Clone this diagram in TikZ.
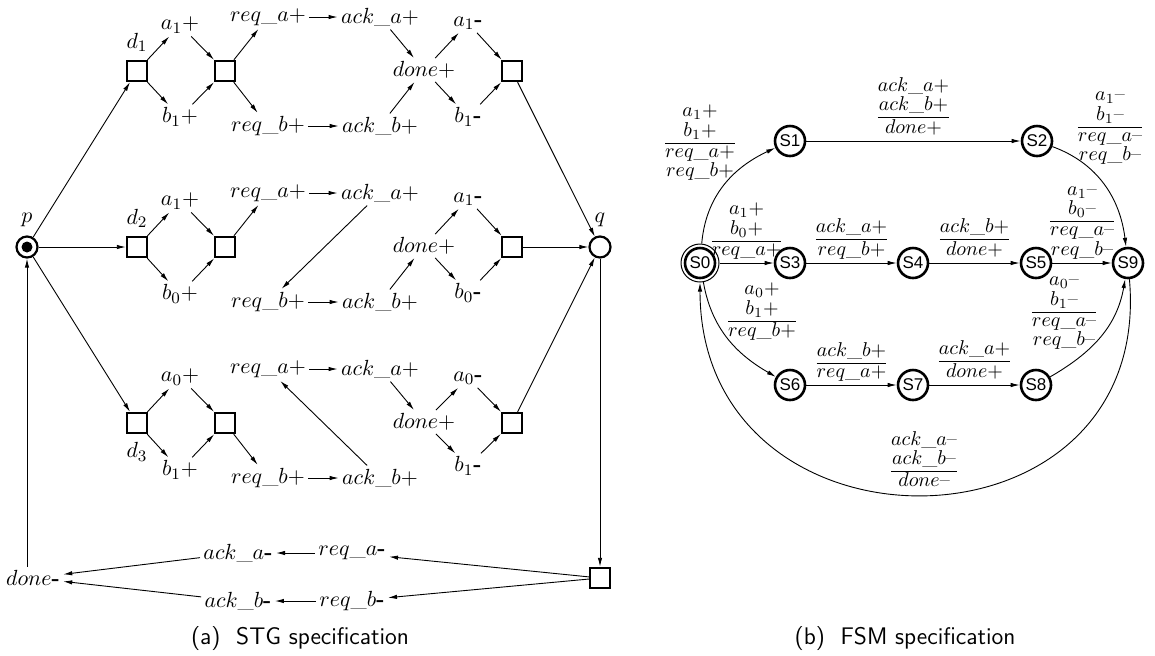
\documentclass[tikz,border=0pt]{standalone}
\usepackage{amsmath}
\usepackage{fontspec}
\newfontfamily\statefont{Liberation Sans}
\usepackage{tikz}
\usetikzlibrary{arrows.meta, positioning}
\newcommand{\fall}{\text{\bfseries -}}
\newcommand{\dn}{\text{--}}
\newcommand{\evt}[2]{{\renewcommand{\arraystretch}{0.75}%
  $\genfrac{}{}{0.5pt}{1}{\begin{array}{@{}c@{}}#1\end{array}}{\begin{array}{@{}c@{}}#2\end{array}}$}}

\begin{document}
\begin{tikzpicture}[x=0.5pt, y=-0.5pt, font=\fontsize{11}{13}\selectfont,
  >={Latex[length=4.5pt, width=2.2pt]}, line width=0.45pt,
  trn/.style={inner sep=1.5pt},
  box/.style={draw, line width=1.2pt, minimum size=10pt, inner sep=0pt},
  place/.style={draw, circle, line width=1.1pt, minimum size=10.5pt, inner sep=0pt},
  token/.style={circle, fill, minimum size=5.5pt, inner sep=0pt},
  state/.style={draw, circle, line width=1.3pt, minimum size=15pt, inner sep=0pt,
                font=\statefont\fontsize{8.5}{10}\selectfont},
  ring/.style={draw, circle, line width=0.5pt, minimum size=19pt, inner sep=0pt},
  lbl/.style={inner sep=1pt},
  guard/.style={inner sep=1pt, font=\fontsize{10}{12}\selectfont},
  capt/.style={font=\sffamily\fontsize{12}{14}\selectfont}]
  \useasboundingbox (0,0) rectangle (1155,655);

  % ---- (a) STG ----
  \node[place] (p) at (27,247) {};
  \node[token] (tok) at (p) {};
  \node[lbl, above=3pt of p] (pl) {$p$};
  \node[place] (q) at (600,247) {};
  \node[lbl, above=3pt of q] (ql) {$q$};

  % upper branch
  \node[box] (d1) at (137,71) {};
  \node[lbl, above=3pt of d1] (d1l) {$d_1$};
  \node[trn] (ap1) at (180,25) {$a_1+$};
  \node[trn] (bp1) at (180,117) {$b_1+$};
  \node[box] (j1) at (225,71) {};
  \node[trn] (rqa1) at (268,17) {$req\_a+$};
  \node[trn] (aka1) at (380,17) {$ack\_a+$};
  \node[trn] (rqb1) at (268,126) {$req\_b+$};
  \node[trn] (akb1) at (380,126) {$ack\_b+$};
  \node[trn] (dn1) at (424,70) {$done+$};
  \node[trn] (am1) at (468,23) {$a_1\fall$};
  \node[trn] (bm1) at (468,117) {$b_1\fall$};
  \node[box] (k1) at (512,71) {};
  \draw[->] (p) -- (d1);
  \draw[->] (d1) -- (ap1);
  \draw[->] (d1) -- (bp1);
  \draw[->] (ap1) -- (j1);
  \draw[->] (bp1) -- (j1);
  \draw[->] (j1) -- (rqa1);
  \draw[->] (j1) -- (rqb1);
  \draw[->] (rqa1) -- (aka1);
  \draw[->] (rqb1) -- (akb1);
  \draw[->] (aka1) -- (dn1);
  \draw[->] (akb1) -- (dn1);
  \draw[->] (dn1) -- (am1);
  \draw[->] (dn1) -- (bm1);
  \draw[->] (am1) -- (k1);
  \draw[->] (bm1) -- (k1);
  \draw[->] (k1) -- (q);

  % middle branch
  \node[box] (d2) at (137,247) {};
  \node[lbl, above=3pt of d2] (d2l) {$d_2$};
  \node[trn] (ap2) at (180,201) {$a_1+$};
  \node[trn] (bp2) at (180,294) {$b_0+$};
  \node[box] (j2) at (225,247) {};
  \node[trn] (rqa2) at (268,193) {$req\_a+$};
  \node[trn] (aka2) at (380,193) {$ack\_a+$};
  \node[trn] (rqb2) at (268,302) {$req\_b+$};
  \node[trn] (akb2) at (380,302) {$ack\_b+$};
  \node[trn] (dn2) at (424,246) {$done+$};
  \node[trn] (am2) at (468,199) {$a_1\fall$};
  \node[trn] (bm2) at (468,293) {$b_0\fall$};
  \node[box] (k2) at (512,247) {};
  \draw[->] (p) -- (d2);
  \draw[->] (d2) -- (ap2);
  \draw[->] (d2) -- (bp2);
  \draw[->] (ap2) -- (j2);
  \draw[->] (bp2) -- (j2);
  \draw[->] (j2) -- (rqa2);
  \draw[->] (rqa2) -- (aka2);
  \draw[->] (aka2) -- (rqb2);
  \draw[->] (rqb2) -- (akb2);
  \draw[->] (akb2) -- (dn2);
  \draw[->] (dn2) -- (am2);
  \draw[->] (dn2) -- (bm2);
  \draw[->] (am2) -- (k2);
  \draw[->] (bm2) -- (k2);
  \draw[->] (k2) -- (q);

  % lower branch
  \node[box] (d3) at (137,423) {};
  \node[lbl, below=3pt of d3] (d3l) {$d_3$};
  \node[trn] (ap3) at (180,377) {$a_0+$};
  \node[trn] (bp3) at (180,470) {$b_1+$};
  \node[box] (j3) at (225,423) {};
  \node[trn] (rqa3) at (268,369) {$req\_a+$};
  \node[trn] (aka3) at (380,369) {$ack\_a+$};
  \node[trn] (rqb3) at (268,478) {$req\_b+$};
  \node[trn] (akb3) at (380,478) {$ack\_b+$};
  \node[trn] (dn3) at (424,422) {$done+$};
  \node[trn] (am3) at (468,378) {$a_0\fall$};
  \node[trn] (bm3) at (468,466) {$b_1\fall$};
  \node[box] (k3) at (512,423) {};
  \draw[->] (p) -- (d3);
  \draw[->] (d3) -- (ap3);
  \draw[->] (d3) -- (bp3);
  \draw[->] (ap3) -- (j3);
  \draw[->] (bp3) -- (j3);
  \draw[->] (j3) -- (rqb3);
  \draw[->] (rqb3) -- (akb3);
  \draw[->] (akb3) -- (rqa3);
  \draw[->] (rqa3) -- (aka3);
  \draw[->] (aka3) -- (dn3);
  \draw[->] (dn3) -- (am3);
  \draw[->] (dn3) -- (bm3);
  \draw[->] (am3) -- (k3);
  \draw[->] (bm3) -- (k3);
  \draw[->] (k3) -- (q);

  % return path
  \node[box] (j4) at (600,578) {};
  \node[trn] (rqam) at (352,553) {$req\_a\fall$};
  \node[trn] (akam) at (238,553) {$ack\_a\fall$};
  \node[trn] (rqbm) at (352,601) {$req\_b\fall$};
  \node[trn] (akbm) at (238,601) {$ack\_b\fall$};
  \node[trn] (dnm) at (33,578) {$done\fall$};
  \draw[->] (q) -- (j4);
  \draw[->] (j4) -- (rqam);
  \draw[->] (j4) -- (rqbm);
  \draw[->] (rqam) -- (akam);
  \draw[->] (rqbm) -- (akbm);
  \draw[->] (akam) -- (dnm);
  \draw[->] (akbm) -- (dnm);
  \draw[->] (dnm.north -| p.south) -- (p.south);

  \node[capt] (capa) at (300,638) {(a)\ \ STG specification};

  % ---- (b) FSM ----
  \node[state] (s0) at (700,263) {S0};
  \node[ring] (s0r) at (s0) {};
  \node[state] (s1) at (790,141) {S1};
  \node[state] (s2) at (1037,141) {S2};
  \node[state] (s3) at (790,263) {S3};
  \node[state] (s4) at (913,263) {S4};
  \node[state] (s5) at (1036,263) {S5};
  \node[state] (s9) at (1128,263) {S9};
  \node[state] (s6) at (790,385) {S6};
  \node[state] (s7) at (913,385) {S7};
  \node[state] (s8) at (1036,385) {S8};

  \draw[->] (s0r) to[out=85, in=205] (s1);
  \node[guard] (e01) at (700,143) {\evt{a_1+\\ b_1+}{req\_a+\\ req\_b+}};
  \draw[->] (s1) -- node[guard, above] (e12) {\evt{ack\_a+\\ ack\_b+}{done+}} (s2);
  \draw[->] (s2) to[out=-20, in=97] (s9);
  \node[guard] (e29) at (1110,127) {\evt{a_1\dn\\ b_1\dn}{req\_a\dn\\ req\_b\dn}};
  \draw[->] (s0r) -- node[guard, above] (e03) {\evt{a_1+\\ b_0+}{req\_a+}} (s3);
  \draw[->] (s3) -- node[guard, above] (e34) {\evt{ack\_a+}{req\_b+}} (s4);
  \draw[->] (s4) -- node[guard, above] (e45) {\evt{ack\_b+}{done+}} (s5);
  \draw[->] (s5) -- node[guard, above] (e59) {\evt{a_1\dn\\ b_0\dn}{req\_a\dn\\ req\_b\dn}} (s9);
  \draw[->] (s0r) to[out=-80, in=150] (s6);
  \node[guard] (e06) at (762,312) {\evt{a_0+\\ b_1+}{req\_b+}};
  \draw[->] (s6) -- node[guard, above] (e67) {\evt{ack\_b+}{req\_a+}} (s7);
  \draw[->] (s7) -- node[guard, above] (e78) {\evt{ack\_a+}{done+}} (s8);
  \draw[->] (s8) to[out=30, in=-100] (s9);
  \node[guard] (e89) at (1064,312) {\evt{a_0\dn\\ b_1\dn}{req\_a\dn\\ req\_b\dn}};
  \draw[->] (s9) to[out=-85, in=-90, looseness=1.7]
        node[guard, above] (e90) {\evt{ack\_a\dn\\ ack\_b\dn}{done\dn}} (s0r);

  \node[capt] (capb) at (905,638) {(b)\ \ FSM specification};
\end{tikzpicture}
\end{document}
